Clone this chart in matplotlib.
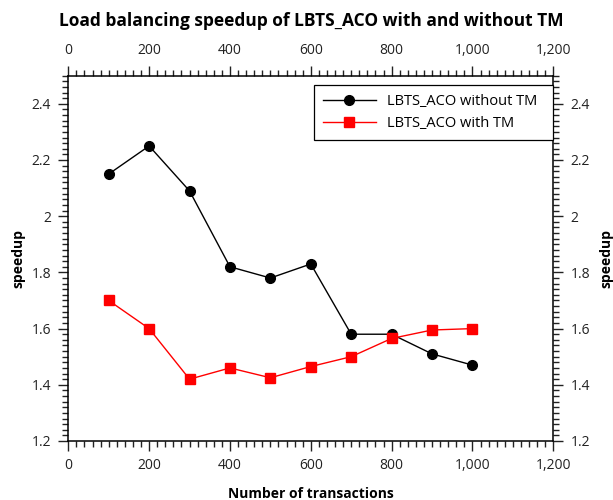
import matplotlib
matplotlib.use("Agg")
import matplotlib.pyplot as plt
from matplotlib.ticker import MultipleLocator, FuncFormatter

plt.rcParams['font.family'] = ['Open Sans', 'DejaVu Sans']

transactions = [100, 200, 300, 400, 500, 600, 700, 800, 900, 1000]
speedup_without_tm = [2.15, 2.25, 2.09, 1.82, 1.78, 1.83, 1.58, 1.58, 1.51, 1.47]
speedup_with_tm = [1.70, 1.60, 1.42, 1.46, 1.425, 1.465, 1.50, 1.565, 1.595, 1.60]
series_names = ['LBTS_ACO without TM', 'LBTS_ACO with TM']

fig = plt.figure(figsize=(6.13, 5.0), dpi=100)
ax = fig.add_axes([0.1114, 0.118, 0.7912, 0.7306])

# two spaces of right padding inside the legend box
ax.plot(transactions, speedup_without_tm, color='black', lw=1.0,
        marker='o', markersize=7, label=series_names[0] + '  ')
ax.plot(transactions, speedup_with_tm, color='#ff0000', lw=1.0,
        marker='s', markersize=6.5, label=series_names[1] + '  ')

ax.set_xlim(0, 1200)
ax.set_ylim(1.2, 2.5)
ax.xaxis.set_major_locator(MultipleLocator(200))
ax.xaxis.set_minor_locator(MultipleLocator(20))
ax.yaxis.set_major_locator(MultipleLocator(0.2))
ax.yaxis.set_minor_locator(MultipleLocator(0.02))
ax.xaxis.set_major_formatter(FuncFormatter(lambda v, p: '{:,.0f}'.format(v)))
ax.yaxis.set_major_formatter(FuncFormatter(lambda v, p: '{:g}'.format(round(v, 2))))

ax.tick_params(which='both', direction='out', top=True, right=True,
               labeltop=True, labelright=True, colors='#222222', width=1.0)
ax.tick_params(which='major', length=7.5, labelsize=10, pad=5)
ax.tick_params(which='minor', length=4)
for s in ax.spines.values():
    s.set_linewidth(1.1)

ax.set_title('Load balancing speedup of LBTS_ACO with and without TM',
             fontsize=12.5, fontweight='bold', pad=36)
ax.set_xlabel('Number of transactions', fontsize=10, fontweight='bold', labelpad=10)
ax.set_ylabel('speedup', fontsize=10, fontweight='bold', labelpad=4)
ax.text(1.109, 0.5, 'speedup', transform=ax.transAxes, rotation=90,
        ha='center', va='center', fontsize=10, fontweight='bold')

leg = ax.legend(loc='upper right', bbox_to_anchor=(1.0, 0.9745), borderaxespad=0,
                fancybox=False, edgecolor='black', framealpha=1, fontsize=10.5,
                handlelength=3.6, handletextpad=0.75, borderpad=0.62,
                labelspacing=0.5)
leg.get_frame().set_linewidth(0.9)

fig.savefig('out.png', dpi=100)
